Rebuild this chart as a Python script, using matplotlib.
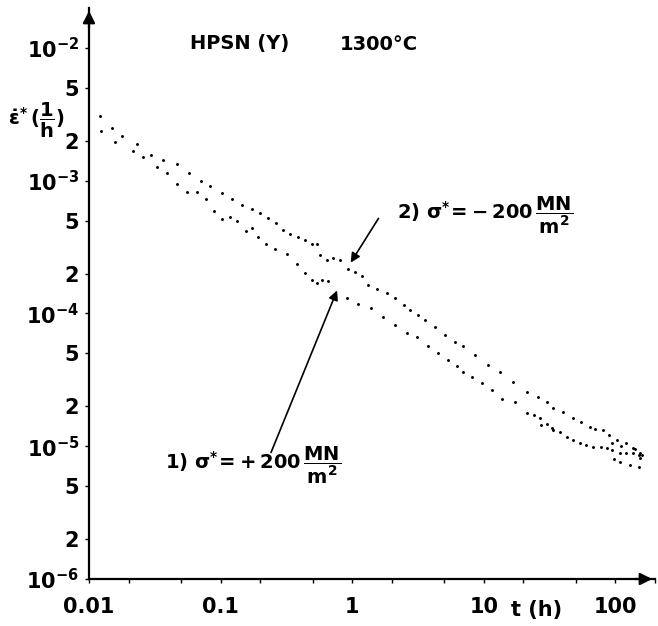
# creep rate vs time, HPSN(Y) at 1300 C -- log-log dot plot

import numpy as np
import matplotlib
matplotlib.use("Agg")
import matplotlib.pyplot as plt
from matplotlib import font_manager
from matplotlib.ticker import FixedLocator, NullFormatter

names = {f.name for f in font_manager.fontManager.ttflist}
main_font = 'Liberation Sans Narrow' if 'Liberation Sans Narrow' in names else 'DejaVu Sans'
plt.rcParams['font.family'] = [main_font, 'DejaVu Sans']
plt.rcParams['font.weight'] = 'bold'
plt.rcParams['mathtext.fontset'] = 'custom'
plt.rcParams['mathtext.rm'] = main_font + ':bold'
plt.rcParams['mathtext.bf'] = main_font + ':bold'
plt.rcParams['mathtext.it'] = main_font + ':bold'
plt.rcParams['mathtext.default'] = 'bf'

# series 2: sigma* = -200 MN/m^2 (upper branch)
t_minus = [0.0121, 0.0150, 0.0178, 0.0232, 0.0296, 0.0366, 0.0467, 0.0575, 0.0711, 0.0832,
           0.103, 0.122, 0.146, 0.174, 0.200, 0.230, 0.264, 0.299, 0.338, 0.388,
           0.439, 0.497, 0.542, 0.571, 0.646, 0.718, 0.811, 0.933, 1.05, 1.19,
           1.32, 1.55, 1.85, 2.12, 2.49, 2.76, 3.18, 3.59, 4.28, 5.09,
           6.07, 6.98, 8.61, 10.8, 13.3, 16.7, 21.4, 25.9, 30.0, 33.8,
           40.3, 48.0, 55.0, 64.6, 70.0, 81.1, 90.0, 103.5, 120.0, 137.0, 155.0]
e_minus = [3.08e-3, 2.50e-3, 2.17e-3, 1.89e-3, 1.56e-3, 1.44e-3, 1.34e-3, 1.15e-3, 9.96e-4, 9.14e-4,
           8.09e-4, 7.30e-4, 6.58e-4, 6.14e-4, 5.73e-4, 5.25e-4, 4.81e-4, 4.27e-4, 3.97e-4, 3.78e-4,
           3.58e-4, 3.34e-4, 3.34e-4, 2.76e-4, 2.53e-4, 2.62e-4, 2.53e-4, 2.17e-4, 2.06e-4, 1.92e-4,
           1.64e-4, 1.53e-4, 1.43e-4, 1.31e-4, 1.16e-4, 1.06e-4, 9.75e-5, 8.95e-5, 7.93e-5, 6.90e-5,
           6.11e-5, 5.70e-5, 4.88e-5, 4.10e-5, 3.63e-5, 3.05e-5, 2.57e-5, 2.36e-5, 2.15e-5, 1.95e-5,
           1.82e-5, 1.64e-5, 1.52e-5, 1.40e-5, 1.36e-5, 1.33e-5, 1.22e-5, 1.12e-5, 1.05e-5, 9.73e-6, 8.91e-6]

# series 1: sigma* = +200 MN/m^2 (lower branch)
t_plus = [0.0123, 0.0158, 0.0216, 0.0258, 0.0329, 0.0392, 0.0467, 0.0556, 0.0662, 0.0776,
          0.0893, 0.103, 0.118, 0.133, 0.156, 0.174, 0.193, 0.222, 0.260, 0.321,
          0.382, 0.439, 0.497, 0.542, 0.591, 0.656, 0.916, 1.11, 1.39, 1.72,
          2.12, 2.62, 3.12, 3.78, 4.51, 5.37, 6.29, 6.98, 8.18, 9.75,
          11.6, 13.8, 17.4, 21.4, 24.0, 26.9, 30.0, 33.8, 38.0, 43.2,
          48.0, 54.2, 60.0, 68.1, 78.0, 86.9, 95.0, 109.0, 120.0, 137.0, 150.0, 155.0]
e_plus = [2.37e-3, 1.96e-3, 1.68e-3, 1.51e-3, 1.27e-3, 1.15e-3, 9.46e-4, 8.24e-4, 8.24e-4, 7.30e-4,
          5.93e-4, 5.16e-4, 5.33e-4, 4.98e-4, 4.19e-4, 4.42e-4, 3.78e-4, 3.34e-4, 3.06e-4, 2.81e-4,
          2.36e-4, 2.02e-4, 1.79e-4, 1.70e-4, 1.79e-4, 1.76e-4, 1.31e-4, 1.18e-4, 1.10e-4, 9.42e-5,
          8.20e-5, 7.14e-5, 6.67e-5, 5.70e-5, 5.05e-5, 4.48e-5, 4.03e-5, 3.63e-5, 3.33e-5, 3.00e-5,
          2.66e-5, 2.28e-5, 2.16e-5, 1.79e-5, 1.72e-5, 1.64e-5, 1.48e-5, 1.33e-5, 1.27e-5, 1.18e-5,
          1.12e-5, 1.06e-5, 1.02e-5, 9.89e-6, 9.80e-6, 9.73e-6, 9.30e-6, 8.91e-6, 8.91e-6, 8.91e-6, 8.60e-6, 8.18e-6]

# loose scatter in the tail
t_tail = [27.0, 33.0, 95.0, 110.0, 97.0, 108.0, 130.0, 150.0, 160.0, 140.0]
e_tail = [1.45e-5, 1.38e-5, 1.05e-5, 1.00e-5, 8.0e-6, 7.6e-6, 7.2e-6, 7.0e-6, 8.6e-6, 9.6e-6]

x_major = [0.01, 0.1, 1, 10, 100]
x_major_labels = ['0.01', '0.1', '1', '10', '100']
y_major = [1e-6, 1e-5, 1e-4, 1e-3, 1e-2]
y_major_labels = ['$10^{-6}$', '$10^{-5}$', '$10^{-4}$', '$10^{-3}$', '$10^{-2}$']

fig = plt.figure(figsize=(6.58, 6.26), dpi=100)
ax = fig.add_axes([89 / 658, 1 - 579 / 626, 566 / 658, 571 / 626])
ax.set_xscale('log')
ax.set_yscale('log')
ax.set_xlim(0.01, 200)
ax.set_ylim(1e-6, 0.02)

ax.plot(t_minus, e_minus, '.', color='k', ms=2.2, ls='none', clip_on=False)
ax.plot(t_plus, e_plus, '.', color='k', ms=2.2, ls='none', clip_on=False)
ax.plot(t_tail, e_tail, '.', color='k', ms=2.2, ls='none', clip_on=False)

# axes: only left + bottom, with arrow heads
for s in ['top', 'right']:
    ax.spines[s].set_visible(False)
for s in ['left', 'bottom']:
    ax.spines[s].set_linewidth(1.6)
ax.annotate('', xy=(1.0, 0), xytext=(0.96, 0), xycoords='axes fraction',
            arrowprops=dict(arrowstyle='-|>', color='k', lw=1.6, mutation_scale=18))
ax.annotate('', xy=(0, 1.0), xytext=(0, 0.96), xycoords='axes fraction',
            arrowprops=dict(arrowstyle='-|>', color='k', lw=1.6, mutation_scale=18))

# ticks
ax.xaxis.set_major_locator(FixedLocator(x_major))
ax.set_xticklabels(x_major_labels)
x_minor = [d * m for d in [0.01, 0.1, 1, 10, 100] for m in (2, 5)]
ax.xaxis.set_minor_locator(FixedLocator(x_minor))
ax.xaxis.set_minor_formatter(NullFormatter())

ax.yaxis.set_major_locator(FixedLocator(y_major))
ax.set_yticklabels(y_major_labels)
y_minor = [d * m for d in [1e-6, 1e-5, 1e-4, 1e-3] for m in (2, 5)]
ax.yaxis.set_minor_locator(FixedLocator(y_minor))
ax.set_yticks(y_minor, ['2', '5'] * 4, minor=True)

ax.tick_params(which='both', direction='out', length=3, width=1, labelsize=15, pad=4)
ax.tick_params(axis='x', which='both', pad=10)

# labels
fig.text(537 / 658, 1 - 610 / 626, 't (h)', fontsize=15, ha='center', va='center')
fig.text(8 / 658, 1 - 120 / 626, r'$\dot{\epsilon}^{*}\,(\dfrac{1}{h})$', fontsize=14,
         ha='left', va='center')
fig.text(190 / 658, 1 - 44 / 626, 'HPSN (Y)', fontsize=14, ha='left', va='center')
fig.text(340 / 658, 1 - 44 / 626, '1300°C', fontsize=14, ha='left', va='center')

# curve annotations
lab2_tip = (0.949, 2.32e-4)
lab1_tip = (0.782, 1.56e-4)
ax.annotate('', xy=lab2_tip, xytext=(380 / 658, 1 - 216 / 626), textcoords='figure fraction',
            arrowprops=dict(arrowstyle='-|>', color='k', lw=1.2, mutation_scale=14))
ax.annotate('', xy=lab1_tip, xytext=(270 / 658, 1 - 455 / 626), textcoords='figure fraction',
            arrowprops=dict(arrowstyle='-|>', color='k', lw=1.2, mutation_scale=14))
fig.text(397 / 658, 1 - 215 / 626, r'2) $\sigma^{*}\!=\!-200\,\dfrac{MN}{m^2}$',
         fontsize=14, ha='left', va='center')
fig.text(165 / 658, 1 - 465 / 626, r'1) $\sigma^{*}\!=\!+200\,\dfrac{MN}{m^2}$',
         fontsize=14, ha='left', va='center')

fig.savefig('out.png', dpi=100)
